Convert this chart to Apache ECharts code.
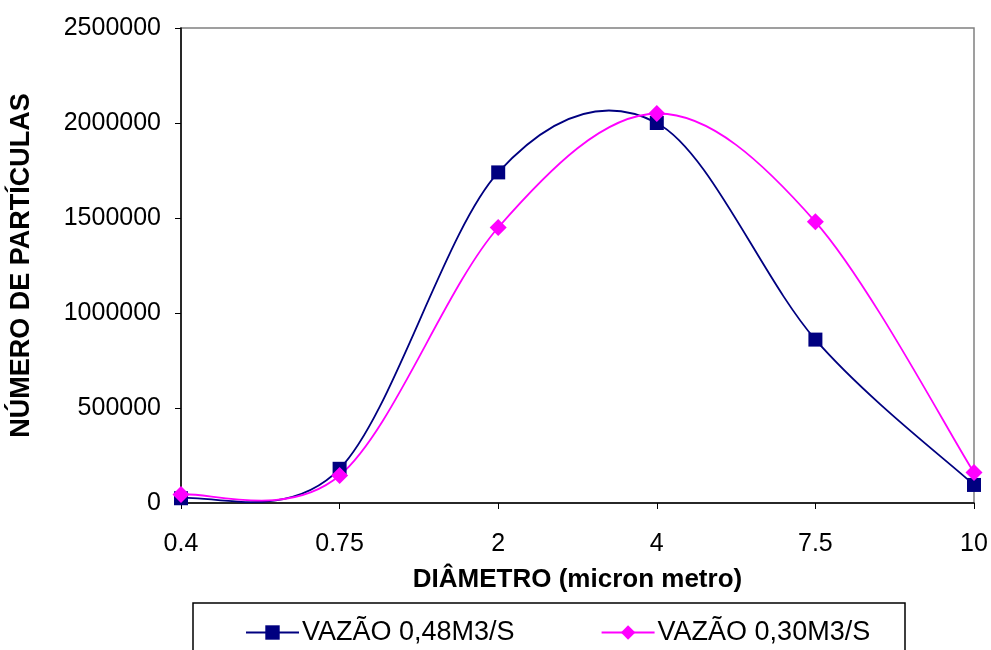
<!DOCTYPE html>
<html>
<head>
<meta charset="utf-8">
<script src="https://cdn.jsdelivr.net/npm/echarts@6/dist/echarts.min.js"></script>
<style>
html, body { margin: 0; padding: 0; background: #fff; }
#main { width: 991px; height: 650px; }
</style>
</head>
<body>
<div id="main"></div>
<script>
// diâmetros (micron metro)
var diametros = ['0.4', '0.75', '2', '4', '7.5', '10'];
// número de partículas por vazão
var vazao048 = [25000, 180000, 1740000, 2000000, 860000, 95000];
var vazao030 = [45000, 145000, 1450000, 2050000, 1480000, 160000];
var yTicks = [0, 500000, 1000000, 1500000, 2000000, 2500000];

var chart = echarts.init(document.getElementById('main'));
var fonte = 'Liberation Sans, Arial, sans-serif';
var AZUL = '#000080';
var ROSA = '#ff00ff';

// curva suave tipo Excel (Catmull-Rom) desenhada segmento a segmento
function curva(valores, cor) {
    return function (params, api) {
        var i = params.dataIndex;
        var n = valores.length;
        if (i >= n - 1) return null;
        var p = function (k) {
            k = Math.max(0, Math.min(n - 1, k));
            return api.coord([k, valores[k]]);
        };
        var p0 = p(i - 1), p1 = p(i), p2 = p(i + 1), p3 = p(i + 2);
        return {
            type: 'bezierCurve',
            shape: {
                x1: p1[0], y1: p1[1],
                x2: p2[0], y2: p2[1],
                cpx1: p1[0] + (p2[0] - p0[0]) / 6,
                cpy1: p1[1] + (p2[1] - p0[1]) / 6,
                cpx2: p2[0] - (p3[0] - p1[0]) / 6,
                cpy2: p2[1] - (p3[1] - p1[1]) / 6
            },
            style: { stroke: cor, lineWidth: 1.8, fill: 'none' }
        };
    };
}

chart.setOption({
    backgroundColor: '#fff',
    animation: false,
    grid: { left: 179, right: 17, top: 28, bottom: 147, show: true, borderColor: '#808080', borderWidth: 1.5 },
    graphic: [{
        type: 'rect',
        shape: { x: 193, y: 603, width: 712, height: 70 },
        style: { fill: 'none', stroke: '#000', lineWidth: 1.5 }
    }],
    legend: {
        left: 240,
        top: 614,
        itemGap: 86,
        itemWidth: 53,
        itemHeight: 18,
        textStyle: { fontFamily: fonte, fontSize: 27, color: '#000', padding: [0, 0, 0, -2] },
        data: [
            { name: 'VAZÃO 0,48M3/S', lineStyle: { color: AZUL, width: 2, opacity: 1 } },
            { name: 'VAZÃO 0,30M3/S', lineStyle: { color: ROSA, width: 2, opacity: 1 } }
        ]
    },
    xAxis: {
        type: 'category',
        data: diametros,
        boundaryGap: false,
        name: 'DIÂMETRO (micron metro)',
        nameLocation: 'middle',
        nameGap: 64,
        nameTextStyle: { fontFamily: fonte, fontSize: 26, fontWeight: 'bold', color: '#000' },
        axisLine: { lineStyle: { color: '#000', width: 1.5 } },
        axisTick: { show: true, length: 6, lineStyle: { color: '#000' }, alignWithLabel: true },
        axisLabel: { fontFamily: fonte, fontSize: 25, color: '#000', margin: 29 },
        splitLine: { show: false }
    },
    yAxis: {
        type: 'value',
        min: 0,
        max: 2500000,
        interval: 500000,
        name: 'NÚMERO DE PARTÍCULAS',
        nameLocation: 'middle',
        nameGap: 146,
        nameTextStyle: { fontFamily: fonte, fontSize: 27, fontWeight: 'bold', color: '#000' },
        axisLine: { show: true, lineStyle: { color: '#000', width: 1.5 } },
        axisTick: { show: true, length: 6, lineStyle: { color: '#000' } },
        axisLabel: {
            fontFamily: fonte, fontSize: 25, color: '#000', margin: 20,
            formatter: function (v) { return yTicks.indexOf(v) >= 0 ? String(v) : ''; }
        },
        splitLine: { show: false }
    },
    series: [
        {
            name: 'curva048',
            type: 'custom',
            renderItem: curva(vazao048, AZUL),
            data: vazao048.map(function (v, i) { return [i, v]; }),
            silent: true,
            z: 2
        },
        {
            name: 'curva030',
            type: 'custom',
            renderItem: curva(vazao030, ROSA),
            data: vazao030.map(function (v, i) { return [i, v]; }),
            silent: true,
            z: 2
        },
        {
            name: 'VAZÃO 0,48M3/S',
            type: 'line',
            data: vazao048,
            symbol: 'rect',
            symbolSize: 14,
            color: AZUL,
            lineStyle: { opacity: 0 },
            itemStyle: { color: AZUL },
            z: 3
        },
        {
            name: 'VAZÃO 0,30M3/S',
            type: 'line',
            data: vazao030,
            symbol: 'diamond',
            symbolSize: 17,
            color: ROSA,
            lineStyle: { opacity: 0 },
            itemStyle: { color: ROSA },
            z: 4
        }
    ]
});
</script>
</body>
</html>
